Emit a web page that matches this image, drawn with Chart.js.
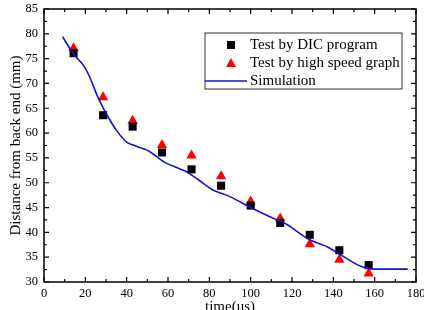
<!DOCTYPE html>
<html>
<head>
<meta charset="utf-8">
<script src="https://cdn.jsdelivr.net/npm/chart.js@4.4.0/dist/chart.umd.min.js"></script>
<style>
  body { margin: 0; background: #fff; }
  #wrap { width: 424px; height: 310px; position: relative; }
</style>
</head>
<body>
<div id="wrap"><canvas id="chart"></canvas></div>
<script>
// data
const testX = [14.3, 28.6, 42.9, 57.1, 71.4, 85.7, 100, 114.3, 128.6, 142.9, 157.1];
const dicY = [76.1, 63.6, 61.3, 56.1, 52.7, 49.4, 45.4, 41.9, 39.5, 36.4, 33.4];
const speedY = [77.1, 67.2, 62.5, 57.6, 55.5, 51.3, 46.2, 42.8, 37.6, 34.5, 31.7];
const simX = [9, 14, 19, 22, 26, 30, 35, 40, 45, 51, 58, 65, 69, 75, 82, 90, 100, 109, 118, 121, 128.5, 137, 145, 152, 157, 160, 176];
const simY = [79.4, 76.1, 73.7, 71.4, 67.3, 64, 60.6, 58.2, 57.3, 56.3, 54.2, 52.9, 52.2, 50.5, 48.5, 47.2, 45.0, 43.2, 41.5, 40.6, 38.5, 37.1, 35.1, 33.4, 32.7, 32.6, 32.6];
const labels = ['Test by DIC program', 'Test by high speed graph', 'Simulation'];

const serif = '"Liberation Serif", "Times New Roman", serif';

function pts(xs, ys) {
    return xs.map((x, i) => ({x: x, y: ys[i]}));
}

//frame, inward ticks and the legend box
const framePlugin = {
    id: 'frame',
    afterDraw(chart) {
        const ctx = chart.ctx;
        const a = chart.chartArea;
        const xs = chart.scales.x;
        const ys = chart.scales.y;
        ctx.save();
        ctx.strokeStyle = '#000';
        ctx.lineWidth = 1.5;
        ctx.strokeRect(a.left, a.top, a.right - a.left, a.bottom - a.top);
        ctx.lineWidth = 1.2;
        ctx.beginPath();
        for (let v = 0; v <= 180; v += 10) {
            const p = xs.getPixelForValue(v);
            const len = v % 20 === 0 ? 5 : 3;
            ctx.moveTo(p, a.bottom); ctx.lineTo(p, a.bottom - len);
            ctx.moveTo(p, a.top); ctx.lineTo(p, a.top + len);
        }
        for (let v = 30; v <= 85; v += 2.5) {
            const p = ys.getPixelForValue(v);
            const len = v % 5 === 0 ? 5 : 3;
            ctx.moveTo(a.left, p); ctx.lineTo(a.left + len, p);
            ctx.moveTo(a.right, p); ctx.lineTo(a.right - len, p);
        }
        ctx.stroke();

        // legend
        const bx = 205, by = 33, bw = 197, bh = 56;
        ctx.lineWidth = 1;
        ctx.strokeStyle = '#333';
        ctx.fillStyle = '#fff';
        ctx.fillRect(bx, by, bw, bh);
        ctx.strokeRect(bx, by, bw, bh);
        const rows = [45, 63, 81];
        ctx.font = '15px ' + serif;
        ctx.textBaseline = 'middle';
        ctx.fillStyle = '#000';
        ctx.fillRect(227, rows[0] - 4, 8, 8);
        ctx.fillStyle = '#ff0000';
        ctx.beginPath();
        ctx.moveTo(231, rows[1] - 5);
        ctx.lineTo(236, rows[1] + 4);
        ctx.lineTo(226, rows[1] + 4);
        ctx.closePath();
        ctx.fill();
        ctx.strokeStyle = '#1414c8';
        ctx.lineWidth = 1.5;
        ctx.beginPath();
        ctx.moveTo(bx, rows[2]); ctx.lineTo(247, rows[2]);
        ctx.stroke();
        ctx.fillStyle = '#000';
        labels.forEach((t, i) => ctx.fillText(t, 250, rows[i]));
        ctx.restore();
    }
};

const chart = document.querySelector('#chart').getContext('2d');

new Chart(chart, {
    type: 'scatter',
    data: {
        datasets: [
            {
                label: labels[2],
                data: pts(simX, simY),
                showLine: true,
                borderColor: '#1414c8',
                borderWidth: 1.6,
                pointRadius: 0,
                tension: 0.3,
                fill: false
            },
            {
                label: labels[0],
                data: pts(testX, dicY),
                pointStyle: 'rect',
                pointRadius: 5.7,
                backgroundColor: '#000',
                borderColor: '#000',
                borderWidth: 0
            },
            {
                label: labels[1],
                data: pts(testX, speedY),
                pointStyle: 'triangle',
                pointRadius: 6,
                backgroundColor: '#ff0000',
                borderColor: '#ff0000',
                borderWidth: 0
            }
        ]
    },
    options: {
        responsive: true,
        maintainAspectRatio: false,
        animation: false,
        layout: { padding: { top: 9, right: 8, left: 0, bottom: 0 } },
        plugins: {
            legend: { display: false },
            tooltip: { enabled: false }
        },
        scales: {
            x: {
                type: 'linear',
                min: 0,
                max: 180,
                grid: { display: false, drawTicks: false },
                border: { display: false },
                ticks: { stepSize: 20, padding: 4, color: '#000', font: { family: serif, size: 12.5 }, maxRotation: 0 },
                title: { display: true, text: 'time(us)', color: '#000', font: { family: serif, size: 15 }, padding: { top: 0, bottom: -6 } },
                afterFit(scale) {
                    scale.height = 28;
                    scale.paddingLeft = 0;
                    scale.paddingRight = 0;
                }
            },
            y: {
                min: 30,
                max: 85,
                grid: { display: false, drawTicks: false },
                border: { display: false },
                ticks: { stepSize: 5, padding: 6, color: '#000', font: { family: serif, size: 12.5 } },
                title: { display: true, text: 'Distance from back end (mm)', color: '#000', font: { family: serif, size: 15 }, padding: { top: 7, bottom: 0 } },
                afterFit(scale) {
                    scale.width = 44;
                    scale.paddingTop = 0;
                    scale.paddingBottom = 0;
                }
            }
        }
    },
    plugins: [framePlugin]
});
</script>
</body>
</html>
